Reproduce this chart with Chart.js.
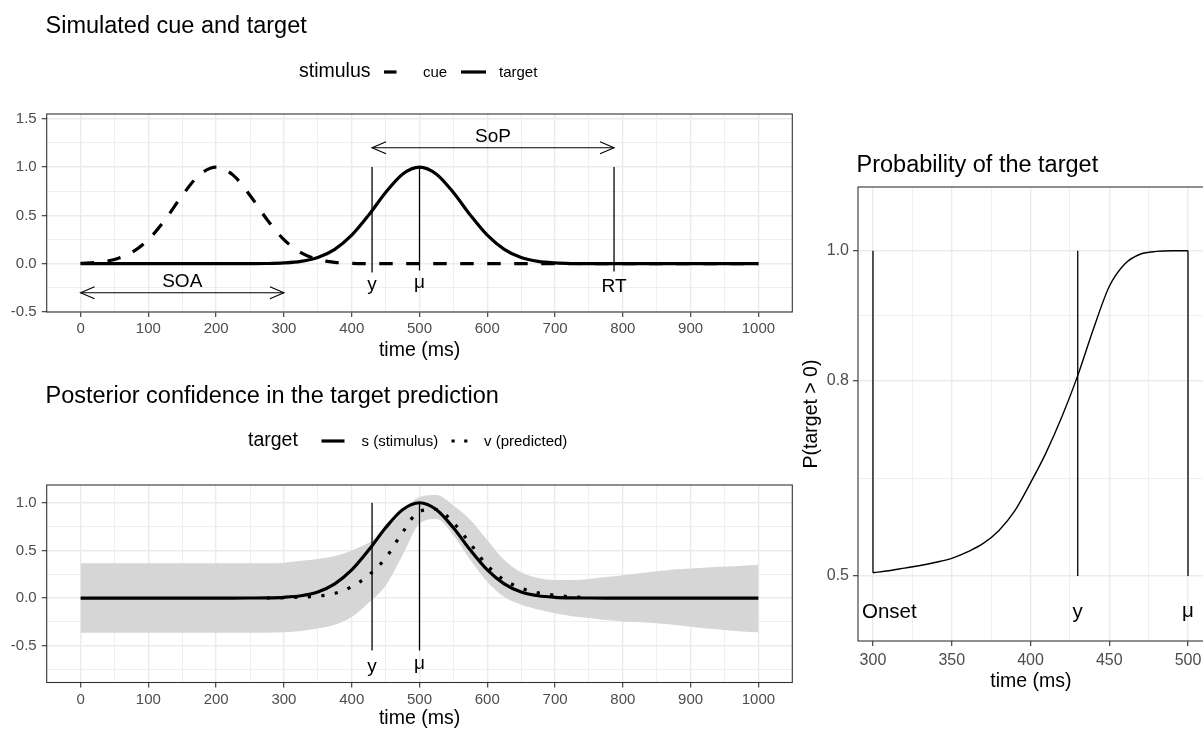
<!DOCTYPE html>
<html><head><meta charset="utf-8">
<script src="https://cdn.jsdelivr.net/npm/chart.js@4.4.1/dist/chart.umd.min.js"></script>
<style>
html,body{margin:0;padding:0;background:#fff;overflow:hidden;}
#wrap{position:relative;width:1203px;height:733px;overflow:hidden;background:#fff;}
.pane{position:absolute;}
canvas{display:block;}
</style></head><body>
<div id="wrap">
  <div class="pane" style="left:0;top:0;width:800px;height:366px"><canvas id="c1" width="800" height="366"></canvas></div>
  <div class="pane" style="left:0;top:365px;width:800px;height:369px"><canvas id="c3" width="800" height="369"></canvas></div>
  <div class="pane" style="left:800px;top:130px;width:410px;height:567px"><canvas id="c2" width="410" height="567"></canvas></div>
</div>
<script>
// ---------------- DATA ----------------
const times = [0,25,50,75,100,125,150,175,200,225,250,275,300,325,350,375,400,425,450,475,500,525,550,575,600,625,650,675,700,725,750,775,800,825,850,875,900,925,950,975,1000];
const cueValues = [0.004,0.014,0.044,0.114,0.249,0.458,0.707,0.917,1.000,0.917,0.707,0.458,0.249,0.114,0.044,0.014,0.004,0.001,0,0,0,0,0,0,0,0,0,0,0,0,0,0,0,0,0,0,0,0,0,0,0];
const targetValues = [0,0,0,0,0,0,0,0,0,0,0.0005,0.002,0.008,0.024,0.064,0.149,0.295,0.503,0.737,0.927,1.000,0.927,0.737,0.503,0.295,0.149,0.064,0.024,0.008,0.002,0.0005,0,0,0,0,0,0,0,0,0,0];
const stimulusValues = [0,0,0,0,0,0,0,0,0,0,0.0005,0.002,0.008,0.024,0.064,0.149,0.295,0.503,0.737,0.927,1.000,0.927,0.737,0.503,0.295,0.149,0.064,0.024,0.008,0.002,0.0005,0,0,0,0,0,0,0,0,0,0];
const predTimes = [275,300,325,350,375,400,425,450,475,500,525,550,575,600,625,650,675,700,725,750];
const predValues = [0.0,0.003,0.01,0.02,0.05,0.12,0.24,0.42,0.69,0.91,0.93,0.79,0.57,0.34,0.19,0.105,0.055,0.03,0.012,0.004];
const bandUpper = [0.365,0.365,0.365,0.365,0.365,0.365,0.365,0.365,0.365,0.365,0.365,0.365,0.37,0.39,0.41,0.44,0.50,0.58,0.72,0.90,1.06,1.08,0.97,0.82,0.61,0.40,0.27,0.21,0.19,0.19,0.20,0.22,0.24,0.26,0.28,0.30,0.31,0.32,0.33,0.34,0.35];
const bandLower = [-0.365,-0.365,-0.365,-0.365,-0.365,-0.365,-0.365,-0.365,-0.365,-0.365,-0.365,-0.365,-0.36,-0.345,-0.32,-0.28,-0.20,-0.05,0.13,0.45,0.78,0.83,0.66,0.40,0.17,0.01,-0.07,-0.12,-0.16,-0.19,-0.21,-0.23,-0.245,-0.255,-0.265,-0.28,-0.30,-0.32,-0.335,-0.35,-0.36];
const probTimes = [300,310,320,330,340,350,360,370,380,390,400,410,420,430,440,450,460,470,480,490,500];
const probValues = [0.505,0.508,0.512,0.516,0.521,0.527,0.537,0.550,0.570,0.600,0.643,0.690,0.745,0.808,0.880,0.945,0.980,0.995,0.999,1.0,1.0];

// event markers
const SOA = 300, Y_TIME = 430, MU = 500, RT = 787, ONSET = 300;

// ticks
const xTicksTime = [0,50,100,150,200,250,300,350,400,450,500,550,600,650,700,750,800,850,900,950,1000];
const xMajorTime = [0,100,200,300,400,500,600,700,800,900,1000];
const yTicksTop = [-0.5,-0.25,0,0.25,0.5,0.75,1,1.25,1.5];
const yMajorTop = [-0.5,0,0.5,1,1.5];
const yTicksBottom = [-0.75,-0.5,-0.25,0,0.25,0.5,0.75,1];
const yMajorBottom = [-0.5,0,0.5,1];
const xTicksProb = [300,325,350,375,400,425,450,475,500];
const xMajorProb = [300,350,400,450,500];
const yTicksProb = [0.5,0.65,0.8,0.9,1.0];
const yMajorProb = [0.5,0.8,1.0];

// ---------------- HELPERS ----------------
const FONT = "'Liberation Sans', Arial, Helvetica, sans-serif";
Chart.defaults.font.family = FONT;
Chart.defaults.color = '#4D4D4D';
const pts = (xs, ys) => xs.map((x, i) => ({x: x, y: ys[i]}));
const seg = (x1, y1, x2, y2) => [{x: x1, y: y1}, {x: x2, y: y2}];

function gridCfg(majors) {
  const isMaj = ctx => ctx.tick && majors.includes(ctx.tick.value);
  return {
    color: ctx => '#EBEBEB',
    lineWidth: ctx => isMaj(ctx) ? 1.4 : 0.8,
    tickColor: ctx => isMaj(ctx) ? '#333333' : 'rgba(0,0,0,0)',
    tickWidth: 1.1,
    tickLength: 5,
    drawTicks: true
  };
}
function axis(opts) {
  return {
    type: 'linear',
    min: opts.min, max: opts.max,
    afterBuildTicks: sc => { sc.ticks = opts.ticks.map(v => ({value: v})); },
    grid: gridCfg(opts.majors),
    border: {display: false},
    ticks: {
      autoSkip: false, maxRotation: 0, includeBounds: false,
      padding: opts.pad, color: '#4D4D4D',
      font: {size: opts.tickSize, family: FONT},
      callback: v => opts.majors.includes(v) ? opts.fmt(v) : ''
    },
    afterFit: sc => { if (opts.width !== undefined) sc.width = opts.width; if (opts.height !== undefined) sc.height = opts.height; },
    title: opts.title ? {display: true, text: opts.title, color: '#000', font: {size: opts.titleSize, family: FONT, lineHeight: 1.2}, padding: opts.titlePad} : {display: false}
  };
}
function lineDs(data, o) {
  return Object.assign({
    data: data, borderColor: '#000', borderWidth: 1.3, pointRadius: 0, fill: false,
    cubicInterpolationMode: 'monotone', order: 2
  }, o || {});
}

// decorations plugin: panel border, arrowheads, texts, legend keys
const decor = {
  id: 'decor',
  afterDraw(chart, args, o) {
    const ctx = chart.ctx;
    const xs = chart.scales.x, ys = chart.scales.y;
    const a = chart.chartArea;
    ctx.save();
    (o.arrows || []).forEach(ar => {
      const y = ys.getPixelForValue(ar.y);
      const p1 = xs.getPixelForValue(ar.x1), p2 = xs.getPixelForValue(ar.x2);
      ctx.strokeStyle = '#000'; ctx.lineWidth = 1.1; ctx.setLineDash([]);
      ctx.beginPath();
      ctx.moveTo(p1 + 14, y - 6); ctx.lineTo(p1, y); ctx.lineTo(p1 + 14, y + 6);
      ctx.moveTo(p2 - 14, y - 6); ctx.lineTo(p2, y); ctx.lineTo(p2 - 14, y + 6);
      ctx.stroke();
    });
    ctx.strokeStyle = '#333333'; ctx.lineWidth = 1.1; ctx.setLineDash([]);
    ctx.strokeRect(a.left, a.top, a.right - a.left, a.bottom - a.top);
    (o.labels || []).forEach(t => {
      ctx.font = t.font; ctx.fillStyle = '#000';
      ctx.textAlign = t.align || 'center'; ctx.textBaseline = 'alphabetic';
      ctx.fillText(t.text, xs.getPixelForValue(t.x), ys.getPixelForValue(t.y));
    });
    (o.texts || []).forEach(t => {
      ctx.font = t.font; ctx.fillStyle = t.color || '#000';
      ctx.textAlign = 'left'; ctx.textBaseline = 'alphabetic';
      ctx.fillText(t.text, t.x, t.y);
    });
    (o.keys || []).forEach(k => {
      ctx.strokeStyle = '#000'; ctx.lineWidth = k.w || 3.2; ctx.lineCap = 'butt';
      ctx.setLineDash(k.dash || []);
      ctx.beginPath(); ctx.moveTo(k.x1, k.y); ctx.lineTo(k.x2, k.y); ctx.stroke();
    });
    ctx.restore();
  }
};
Chart.register(decor);

const f1 = v => v.toFixed(1);
const fi = v => String(v);
const baseOpts = (pad) => ({
  responsive: false, animation: false, events: [],
  layout: {padding: pad},
  plugins: {legend: {display: false}, tooltip: {enabled: false}, title: {display: false}}
});
const TICK = 15;

// ---------------- CHART 1: cue and target ----------------
const o1 = baseOpts({left: 0, right: 7.7, top: 114, bottom: 0});
o1.scales = {
  x: axis({min: -50, max: 1050, ticks: xTicksTime, majors: xMajorTime, fmt: fi, pad: 3, tickSize: TICK, height: 54, title: 'time (ms)', titleSize: 19.5, titlePad: {top: 0, bottom: 4}}),
  y: axis({min: -0.5, max: 1.55, ticks: yTicksTop, majors: yMajorTop, fmt: f1, pad: 5, tickSize: TICK, width: 46.7})
};
o1.plugins.decor = {
  arrows: [{x1: 0, x2: SOA, y: -0.3}, {x1: Y_TIME, x2: RT, y: 1.2}],
  labels: [
    {text: 'SOA', x: SOA / 2, y: -0.24, font: '19px ' + FONT},
    {text: 'y', x: Y_TIME, y: -0.27, font: '19px ' + FONT},
    {text: 'μ', x: MU, y: -0.25, font: '19px ' + FONT},
    {text: 'RT', x: RT, y: -0.29, font: '19px ' + FONT},
    {text: 'SoP', x: (Y_TIME + RT) / 2, y: 1.258, font: '19px ' + FONT}
  ],
  texts: [
    {text: 'Simulated cue and target', x: 45.5, y: 33, font: '23.5px ' + FONT},
    {text: 'stimulus', x: 299, y: 77, font: '19.5px ' + FONT},
    {text: 'cue', x: 423, y: 77, font: '15px ' + FONT},
    {text: 'target', x: 499, y: 77, font: '15px ' + FONT}
  ],
  keys: [
    {x1: 384, x2: 407, y: 72, dash: [12.5, 14]},
    {x1: 461, x2: 486, y: 72}
  ]
};
new Chart(document.getElementById('c1'), {
  type: 'line',
  data: {datasets: [
    lineDs(pts(times, targetValues), {borderWidth: 3.2, order: 0}),
    lineDs(pts(times, cueValues), {borderWidth: 3.2, borderDash: [13.5, 13.5], order: 1}),
    lineDs(seg(Y_TIME, 1, Y_TIME, -0.09)),
    lineDs(seg(MU, 1, MU, -0.07)),
    lineDs(seg(RT, 1, RT, -0.08)),
    lineDs(seg(0, -0.3, SOA, -0.3), {borderWidth: 1.1}),
    lineDs(seg(Y_TIME, 1.2, RT, 1.2), {borderWidth: 1.1})
  ]},
  options: o1
});

// ---------------- CHART 3: posterior confidence ----------------
const o3 = baseOpts({left: 0, right: 7.7, top: 120, bottom: 0});
o3.scales = {
  x: axis({min: -50, max: 1050, ticks: xTicksTime, majors: xMajorTime, fmt: fi, pad: 3, tickSize: TICK, height: 51.5, title: 'time (ms)', titleSize: 19.5, titlePad: {top: 0, bottom: 4}}),
  y: axis({min: -0.886, max: 1.186, ticks: yTicksBottom, majors: yMajorBottom, fmt: f1, pad: 5, tickSize: TICK, width: 46.7})
};
o3.plugins.decor = {
  labels: [
    {text: 'y', x: Y_TIME, y: -0.778, font: '19px ' + FONT},
    {text: 'μ', x: MU, y: -0.74, font: '19px ' + FONT}
  ],
  texts: [
    {text: 'Posterior confidence in the target prediction', x: 45.5, y: 37.5, font: '23.5px ' + FONT},
    {text: 'target', x: 248, y: 81, font: '19.5px ' + FONT},
    {text: 's (stimulus)', x: 361.5, y: 81, font: '15px ' + FONT},
    {text: 'v (predicted)', x: 484, y: 81, font: '15px ' + FONT}
  ],
  keys: [
    {x1: 321.5, x2: 344.5, y: 76},
    {x1: 451.5, x2: 468, y: 76, dash: [3.2, 9.5]}
  ]
};
new Chart(document.getElementById('c3'), {
  type: 'line',
  data: {datasets: [
    lineDs(pts(times, bandUpper), {borderWidth: 0, borderColor: 'rgba(0,0,0,0)', order: 10}),
    lineDs(pts(times, bandLower), {borderWidth: 0, borderColor: 'rgba(0,0,0,0)', fill: '-1', backgroundColor: '#D6D6D6', order: 9}),
    lineDs(seg(Y_TIME, 1, Y_TIME, -0.55), {order: 3}),
    lineDs(seg(MU, 1, MU, -0.55), {order: 3}),
    lineDs(pts(times, stimulusValues), {borderWidth: 3.2, order: 1}),
    lineDs(pts(predTimes, predValues), {borderWidth: 3.2, borderDash: [3.2, 10.4], order: 0})
  ]},
  options: o3
});

// ---------------- CHART 2: probability of the target ----------------
const o2 = baseOpts({left: 0, right: 6.25, top: 57, bottom: 0});
o2.scales = {
  x: axis({min: 290.5, max: 510, ticks: xTicksProb, majors: xMajorProb, fmt: fi, pad: 4.5, tickSize: 16, height: 56, title: 'time (ms)', titleSize: 19.5, titlePad: {top: 0, bottom: 4}}),
  y: axis({min: 0.40, max: 1.098, ticks: yTicksProb, majors: yMajorProb, fmt: f1, pad: 4, tickSize: 16, width: 58, title: 'P(target > 0)', titleSize: 19.5, titlePad: {top: 0, bottom: 0}})
};
o2.plugins.decor = {
  labels: [
    {text: 'Onset', x: 293, y: 0.435, font: '20.5px ' + FONT, align: 'left'},
    {text: 'y', x: Y_TIME, y: 0.435, font: '20.5px ' + FONT},
    {text: 'μ', x: MU, y: 0.437, font: '20.5px ' + FONT}
  ],
  texts: [
    {text: 'Probability of the target', x: 56.5, y: 41.7, font: '23.5px ' + FONT}
  ]
};
new Chart(document.getElementById('c2'), {
  type: 'line',
  data: {datasets: [
    lineDs(pts(probTimes, probValues), {borderWidth: 1.4, order: 0}),
    lineDs(seg(ONSET, probValues[0], ONSET, 1)),
    lineDs(seg(Y_TIME, 0.5, Y_TIME, 1)),
    lineDs(seg(MU, 0.5, MU, 1))
  ]},
  options: o2
});
</script>
</body></html>
